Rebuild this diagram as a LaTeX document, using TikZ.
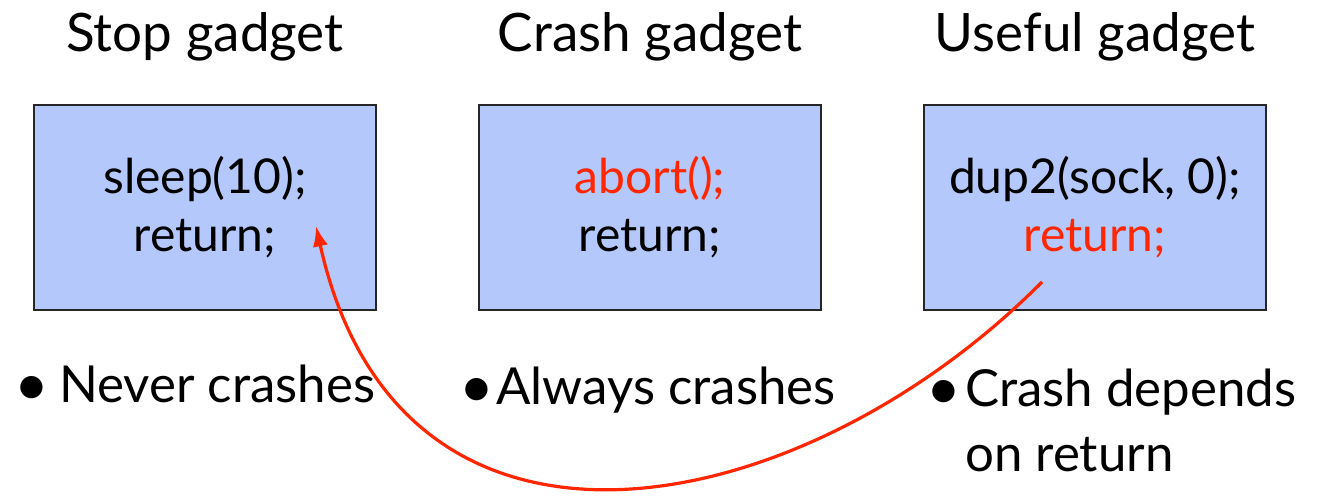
\documentclass[tikz,border=0pt]{standalone}
\usepackage{fontspec}
\setmainfont{Lato}
\usetikzlibrary{positioning,arrows.meta}
\definecolor{boxblue}{RGB}{180,200,252}
\definecolor{hotred}{RGB}{255,38,0}
\newcommand{\bigdot}{{\fontsize{30}{0}\selectfont\raisebox{-1.2pt}{•}}}

\begin{document}
\begin{tikzpicture}[x=0.5pt, y=-0.5pt, >=Latex,
    gadget/.style={draw=black!85, line width=1pt, fill=boxblue,
      minimum width=171pt, minimum height=102.5pt, align=center,
      inner sep=0pt, outer sep=0pt, font=\fontsize{24}{29}\selectfont},
    title/.style={inner sep=0pt, font=\fontsize{26.5}{32}\selectfont},
    note/.style={inner sep=0pt, align=left,
      font=\fontsize{25.5}{32.5}\selectfont}]
  \useasboundingbox (0,0) rectangle (1343,501);
  % the three gadgets
  \node (stop) [gadget] at (205,207.5) {sleep(10);\\ return;};
  \node (crash) [gadget, right=51.5pt of stop]
    {\textcolor{hotred}{abort();}\\ return;};
  \node (useful) [gadget, right=51.5pt of crash]
    {dup2(sock, 0);\\ \textcolor{hotred}{return;}};
  \node (stopT) [title, above=26.5pt of stop, anchor=base] {Stop gadget};
  \node (crashT) [title, above=26.5pt of crash, anchor=base] {Crash gadget};
  \node (usefulT) [title, above=26.5pt of useful, anchor=base] {Useful gadget};
  % bullets below
  \node (stopN) [note, below=46.5pt of stop.south west, anchor=base west,
                 xshift=-10pt] {\bigdot\hspace{5pt}Never crashes};
  \node (crashN) [note, below=47.5pt of crash.south west, anchor=base west,
                  xshift=-10pt] {\bigdot\hspace{1pt}Always crashes};
  \node (usefulN) [note, below=81pt of useful.south west, anchor=base west,
                   xshift=1pt] {\bigdot\hspace{2pt}Crash depends\\
                   \hphantom{\bigdot\hspace{2pt}}on return};
  % return lands on the stop gadget
  \coordinate (jump) at (1042,282);
  \coordinate (land) at (316,226);
  \draw[->, hotred, line width=1.6pt] (jump) .. controls (800,525) and (400,605) .. (land);
\end{tikzpicture}
\end{document}
